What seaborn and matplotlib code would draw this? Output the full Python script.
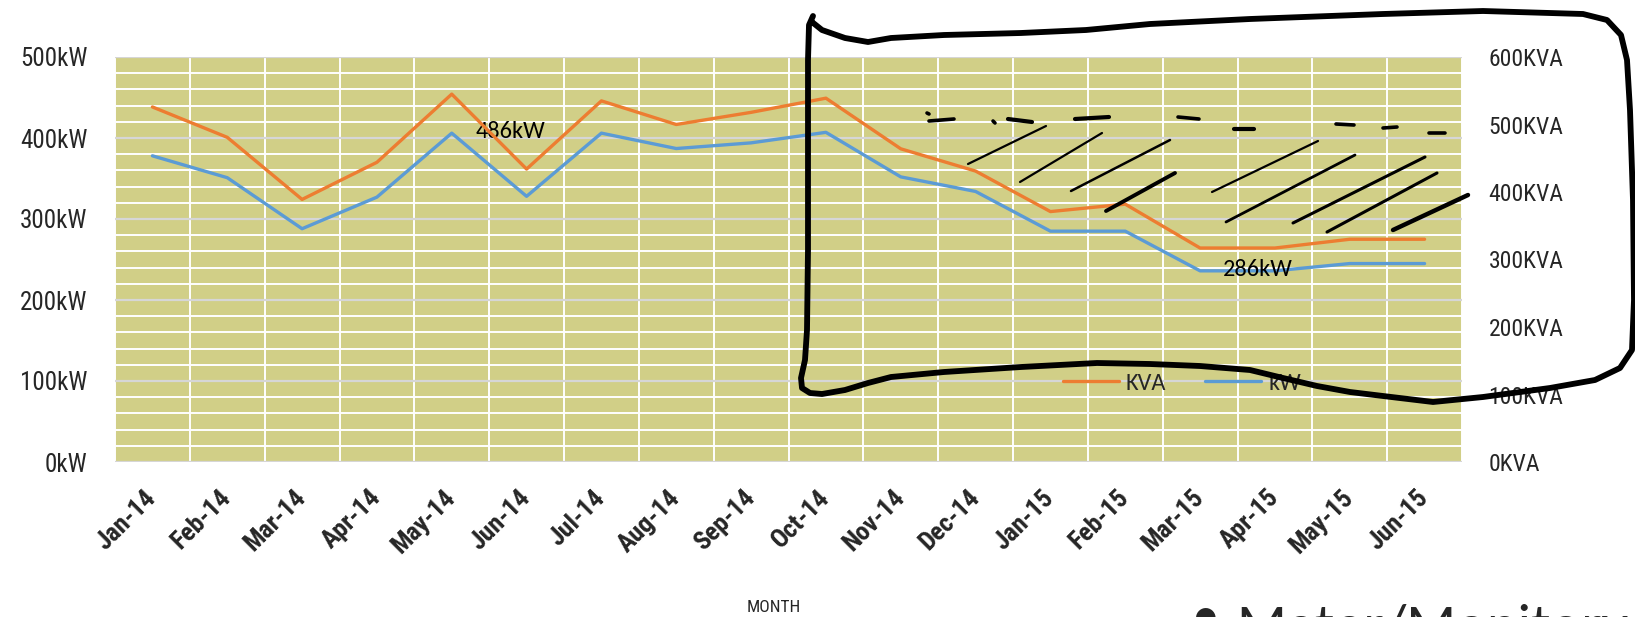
import numpy as np
import pandas as pd
import matplotlib
matplotlib.use("Agg")
import matplotlib.pyplot as plt
import seaborn as sns

# ---------------- data ----------------
months = ["Jan-14", "Feb-14", "Mar-14", "Apr-14", "May-14", "Jun-14", "Jul-14", "Aug-14",
          "Sep-14", "Oct-14", "Nov-14", "Dec-14", "Jan-15", "Feb-15", "Mar-15", "Apr-15",
          "May-15", "Jun-15"]
kw_values = [378, 351, 288, 327, 406, 328, 406, 387, 394, 407, 352, 334, 285, 285, 236, 236, 245, 245]
kva_values = [526, 481, 389, 444, 545, 434, 535, 500, 518, 539, 464, 431, 371, 382, 317, 317, 330, 330]
kw_ticks = [0, 100, 200, 300, 400, 500]
kva_ticks = [0, 100, 200, 300, 400, 500, 600]
kw_tick_labels = [f"{v}kW" for v in kw_ticks]
kva_tick_labels = [f"{v}KVA" for v in kva_ticks]
series_names = ["KVA", "kW"]
data_labels = ["486kW", "286kW"]
data_label_months = ["May-14", "Apr-15"]
x_title = "MONTH"
footer_text = "Meter/Monitory"

# ---------------- style ----------------
sns.set_theme(style="white")
NARROW = ["Liberation Sans Narrow", "Roboto Condensed", "Arial Narrow", "PT Sans Narrow",
          "Archivo Narrow", "DejaVu Sans"]
CALIBRI = ["Carlito", "Lato", "DejaVu Sans"]
plt.rcParams["font.family"] = NARROW

W, H = 1635, 617
fig = plt.figure(figsize=(W / 100, H / 100), dpi=100, facecolor="white")
ax = fig.add_axes([115 / W, (H - 462) / H, 1347 / W, 405 / H])
ax.set_facecolor("#D1CF87")

df = pd.DataFrame({"idx": np.arange(len(months)), "month": months,
                   "kW": kw_values, "KVA": kva_values})

ORANGE = "#ED7D31"
BLUE = "#5B9BD5"
sns.lineplot(data=df, x="idx", y="kW", ax=ax, color=BLUE, lw=2.4, legend=False)
ax2 = ax.twinx()
sns.lineplot(data=df, x="idx", y="KVA", ax=ax2, color=ORANGE, lw=2.4, legend=False)

ax.set_xlim(-0.5, len(months) - 0.5)
ax.set_ylim(kw_ticks[0], kw_ticks[-1])
ax2.set_ylim(kva_ticks[0], kva_ticks[-1])

ax.set_yticks(kw_ticks)
ax.set_yticks(np.arange(kw_ticks[0], kw_ticks[-1] + 1, 20), minor=True)
ax.set_xticks(np.arange(len(months)))
ax.set_xticks(np.arange(-0.5, len(months), 1), minor=True)
ax.set_axisbelow(True)
ax.grid(which="minor", axis="both", color="white", lw=1.4)
ax.grid(which="major", axis="y", color="#D6D6D6", lw=1.6)
ax.grid(which="major", axis="x", visible=False)

ax.set_yticklabels(kw_tick_labels, fontsize=18, family=NARROW)
ax2.set_yticks(kva_ticks)
ax2.set_yticklabels(kva_tick_labels, fontsize=17, family=NARROW)
ax.set_xticklabels(months, rotation=45, ha="right", rotation_mode="anchor",
                   fontsize=18.5, fontweight="bold", family=NARROW, va="center")

ax.tick_params(axis="both", which="both", length=0)
ax2.tick_params(axis="both", which="both", length=0)
ax.tick_params(axis="y", pad=20)
ax2.tick_params(axis="y", pad=19)
ax.tick_params(axis="x", pad=23)

for a in (ax, ax2):
    a.set_xlabel("")
    a.set_ylabel("")
    for s in a.spines.values():
        s.set_visible(False)

# data labels
for txt, m, dx, ha in zip(data_labels, data_label_months, [17, -12], ["left", "center"]):
    i = months.index(m)
    ax.annotate(txt, (i, kw_values[i]), xytext=(dx, 1), textcoords="offset points",
                ha=ha, va="center", fontsize=17.5, family=CALIBRI, color="black")

# legend
kw_line = ax.lines[0]
kva_line = ax2.lines[0]
ax2.legend(handles=[kva_line, kw_line], labels=series_names, loc="center",
           bbox_to_anchor=(0.792, 0.195), ncol=2, frameon=False, handlelength=2.3,
           handletextpad=0.3, columnspacing=1.6, prop={"family": CALIBRI, "size": 17.5})

fig.text(774 / W, (H - 608) / H, x_title, ha="center", va="center", fontsize=12.5, family=NARROW)
fig.text(1192 / W, (H - 634) / H, "\u2022", ha="left", va="baseline", fontsize=40, family=CALIBRI)
fig.text(1236 / W, (H - 644) / H, footer_text, ha="left", va="baseline", fontsize=42, family=CALIBRI)

# ---------------- hand-drawn marker annotation (decoration) ----------------
ov = fig.add_axes([0, 0, 1, 1], facecolor="none")
ov.set_xlim(0, W)
ov.set_ylim(H, 0)
ov.axis("off")
loop = [(813, 16), (809, 25), (808, 60), (808, 150), (808, 250), (807, 330), (805, 360), (801, 378),
        (802, 388), (810, 393), (822, 394), (845, 390), (868, 383), (891, 377), (944, 372), (1021, 367),
        (1097, 363), (1150, 364), (1200, 366), (1250, 370), (1283, 378), (1317, 386), (1350, 392),
        (1383, 396), (1433, 402), (1483, 397), (1550, 388), (1595, 380), (1620, 368), (1632, 350),
        (1634, 300), (1633, 200), (1630, 110), (1627, 60), (1621, 35), (1607, 20), (1583, 14),
        (1483, 11), (1383, 14), (1250, 19), (1150, 24), (1086, 30), (1021, 33), (944, 35), (891, 38),
        (868, 42), (845, 38), (822, 30), (812, 22)]
lx, ly = zip(*loop)
ov.plot(lx, ly, color="black", lw=4.2, solid_joinstyle="round", solid_capstyle="round")
strokes = [
    ((968, 164), (1046, 126), 1.6), ((1020, 182), (1102, 133), 1.6), ((1071, 191), (1170, 140), 1.8),
    ((1106, 211), (1175, 173), 2.8), ((1212, 192), (1318, 141), 1.6), ((1226, 222), (1355, 155), 2.0),
    ((1293, 223), (1425, 157), 2.2), ((1327, 232), (1437, 173), 2.2), ((1393, 230), (1468, 195), 3.2),
    ((929, 121), (954, 119), 2.6), ((1008, 119), (1032, 122), 3.0), ((1075, 119), (1109, 117), 3.0),
    ((1178, 117), (1199, 119), 2.6), ((1234, 129), (1254, 129), 3.0), ((1336, 124), (1354, 125), 2.6),
    ((1383, 128), (1397, 127), 2.6), ((1429, 133), (1445, 133), 2.6),
    ((927, 113), (929, 114), 2.6), ((993, 121), (995, 123), 2.6),
]
for p0, p1, w in strokes:
    ov.plot([p0[0], p1[0]], [p0[1], p1[1]], color="black", lw=w, solid_capstyle="round")

fig.savefig("out.png", dpi=100, facecolor="white")
